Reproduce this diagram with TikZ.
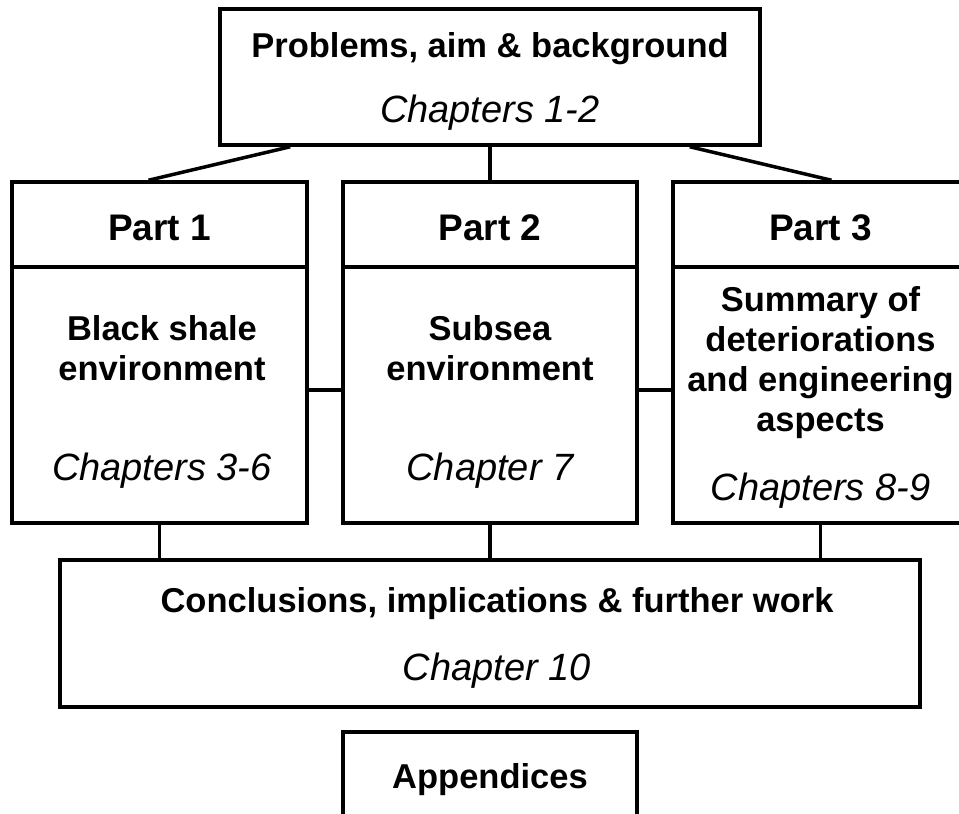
\documentclass[tikz,border=0pt]{standalone}
\usepackage{fontspec}
\setmainfont{Liberation Sans}
\usetikzlibrary{calc}
\tikzset{
  box/.style={draw, line width=3.5pt, inner sep=0pt},
  conn/.style={line width=3.5pt},
  btext/.style={anchor=base, inner sep=0pt, font=\fontsize{34.5}{40}\selectfont\bfseries},
  ptext/.style={anchor=base, inner sep=0pt, font=\fontsize{37}{44}\selectfont\bfseries},
  itext/.style={anchor=base, inner sep=0pt, font=\fontsize{38}{44}\selectfont\itshape}
}
\begin{document}
\begin{tikzpicture}[x=1pt,y=-1pt]
\useasboundingbox (0,0) rectangle (959,814);
\clip (0,0) rectangle (959,814);
% boxes
\node[box, minimum width=540pt, minimum height=136pt] (top) at (490,77) {};
\node[box, minimum width=295pt, minimum height=341pt] (p1) at (159.5,352.5) {};
\node[box, minimum width=294pt, minimum height=341pt] (p2) at (490,352.5) {};
\node[box, minimum width=295pt, minimum height=341pt] (p3) at (820.5,352.5) {};
\node[box, minimum width=860pt, minimum height=147pt] (conc) at (490,633.5) {};
\node[box, minimum width=294pt, minimum height=160pt] (app) at (490,812) {};
% dividers
\coordinate (dv) at (0,267);
\draw[conn] (p1.west |- dv) -- (p1.east |- dv);
\draw[conn] (p2.west |- dv) -- (p2.east |- dv);
\draw[conn] (p3.west |- dv) -- (p3.east |- dv);
% connectors
\draw[conn] ($(top.south west)+(72,0)$) -- ($(p1.north)+(-11,0)$);
\draw[conn] (top.south) -- (p2.north);
\draw[conn] ($(top.south east)+(-72,0)$) -- ($(p3.north)+(11,0)$);
\coordinate (hy) at (0,390);
\draw[conn] (p1.east |- hy) -- (p2.west |- hy);
\draw[conn] (p2.east |- hy) -- (p3.west |- hy);
\draw[conn] (p1.south) -- (p1.south |- conc.north);
\draw[conn] (p2.south) -- (p2.south |- conc.north);
\draw[conn] (p3.south) -- (p3.south |- conc.north);
% texts
\node[btext] (t1) at (490,57) {Problems, aim \& background};
\node[itext] (t2) at (490,122) {Chapters 1-2};
\node[ptext] (a1) at (159.5,240) {Part 1};
\node[ptext] (b1) at (490,240) {Part 2};
\node[ptext] (c1) at (820.5,240) {Part 3};
\node[btext] (a2) at (162,340) {Black shale};
\node[btext] (a3) at (162,380) {environment};
\node[itext] (a4) at (162,480) {Chapters 3-6};
\node[btext] (b2) at (490,340) {Subsea};
\node[btext] (b3) at (490,380) {environment};
\node[itext] (b4) at (490,480) {Chapter 7};
\node[btext] (c2) at (820.5,311) {Summary of};
\node[btext] (c3) at (820.5,351) {deteriorations};
\node[btext] (c4) at (820.5,391) {and engineering};
\node[btext] (c5) at (820.5,431) {aspects};
\node[itext] (c6) at (820.5,500) {Chapters 8-9};
\node[btext] (d1) at (497,612) {Conclusions, implications \& further work};
\node[itext] (d2) at (497,680) {Chapter 10};
\node[btext] (e1) at (490,788) {Appendices};
\end{tikzpicture}
\end{document}
